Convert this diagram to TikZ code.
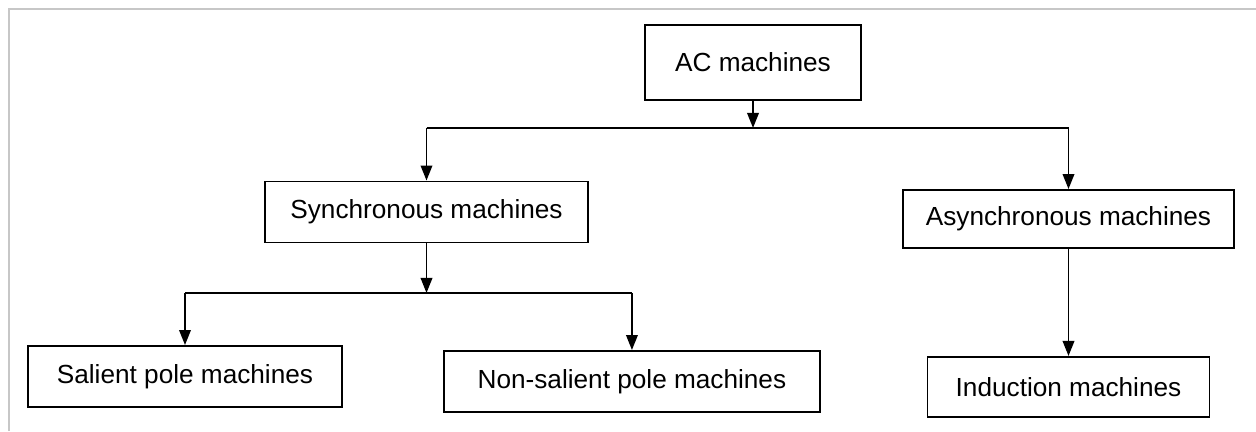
\documentclass[tikz,border=0pt]{standalone}
\usepackage{fontspec}
\setmainfont{Liberation Sans}
\usetikzlibrary{arrows.meta,positioning}

\begin{document}
\begin{tikzpicture}[
    machine/.style={draw, line width=1.1pt, align=center, inner sep=0pt,
      font=\fontsize{14.9}{17}\selectfont},
    link/.style={line width=1.1pt},
    feed/.style={link, -{Triangle[length=3mm, width=2.3mm]}}
  ]
    \useasboundingbox (0,0) rectangle (25.12,-8.62);
    \draw[black!22, line width=0.6pt] (0.18,-8.62) -- (0.18,-0.18) -- (25.12,-0.18);
    \node[machine, minimum width=4.32cm, minimum height=1.5cm] (ac) at (15.06,-1.25) {AC machines};
    \node[machine, minimum width=6.46cm, minimum height=1.22cm] (syn) at (8.53,-4.24) {Synchronous machines};
    \node[machine, minimum width=6.62cm, minimum height=1.16cm] (asy) at (21.37,-4.38) {Asynchronous machines};
    \node[machine, minimum width=6.28cm, minimum height=1.22cm] (sal) at (3.70,-7.53) {Salient pole machines};
    \node[machine, right=2.0cm of sal, yshift=-0.1cm, minimum width=7.52cm, minimum height=1.22cm] (non) {Non-salient pole machines};
    \node[machine, below=2.14cm of asy, minimum width=5.64cm, minimum height=1.2cm] (ind) {Induction machines};
    \coordinate[below=0.54cm of ac] (acsplit);
    \coordinate[below=0.99cm of syn] (synsplit);
    \draw[feed] (ac) -- (acsplit);
    \draw[link] (syn.north |- acsplit) -- (asy.north |- acsplit);
    \draw[feed] (syn.north |- acsplit) -- (syn.north);
    \draw[feed] (asy.north |- acsplit) -- (asy.north);
    \draw[feed] (syn) -- (synsplit);
    \draw[link] (sal.north |- synsplit) -- (non.north |- synsplit);
    \draw[feed] (sal.north |- synsplit) -- (sal.north);
    \draw[feed] (non.north |- synsplit) -- (non.north);
    \draw[feed] (asy) -- (ind);
  \end{tikzpicture}
\end{document}
